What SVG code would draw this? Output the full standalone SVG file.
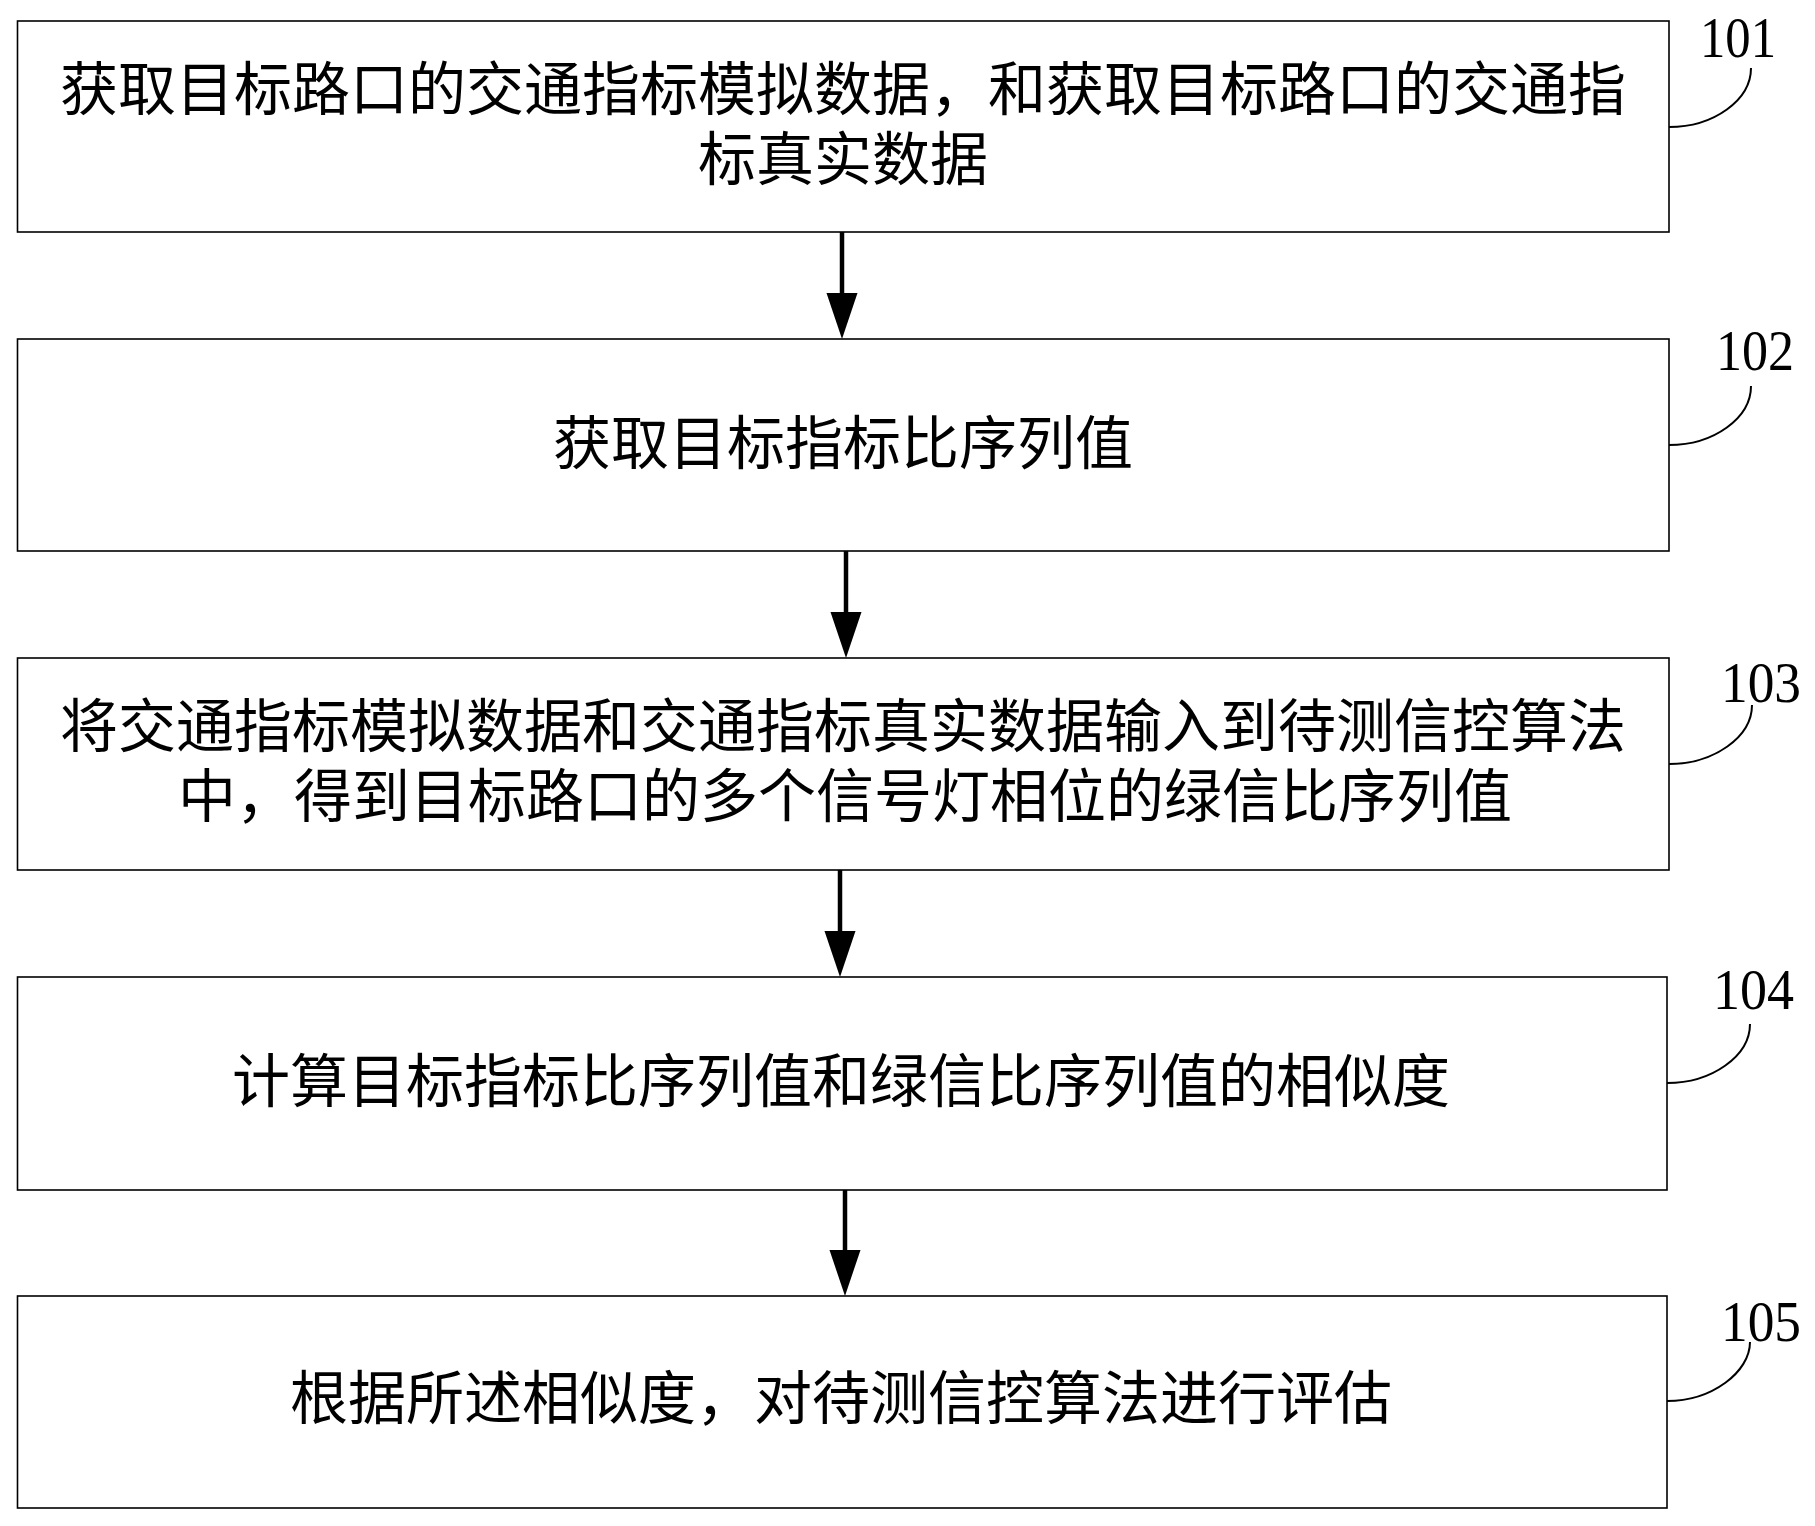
<svg xmlns="http://www.w3.org/2000/svg" width="1815" height="1526" viewBox="0 0 1815 1526">
<defs>
<style>
.box{fill:#fff;stroke:#000;stroke-width:1.6}
.t{font-family:"Liberation Sans","Noto Sans CJK SC","Noto Sans CJK JP",sans-serif;font-size:58px;fill:#000;text-anchor:middle}
.lbl{font-family:"Liberation Serif","Times New Roman",serif;font-size:58px;fill:#000}
.lead{fill:none;stroke:#000;stroke-width:2}
.shaft{stroke:#000;stroke-width:4.5}
.head{fill:#000}
</style>
</defs>
<rect width="1815" height="1526" fill="#fff"/>
<g id="node101">
<rect class="box" x="17.5" y="21" width="1651.5" height="211"/>
<text class="t" x="843" y="109.5">获取目标路口的交通指标模拟数据，和获取目标路口的交通指</text>
<text class="t" x="843" y="179.5">标真实数据</text>
<text class="lbl" x="1700" y="57" textLength="76" lengthAdjust="spacingAndGlyphs">101</text>
<path class="lead" d="M1669,127 C1714,127 1751,100 1751,68"/>
</g>
<g id="node102">
<rect class="box" x="17.5" y="339" width="1651.5" height="212"/>
<text class="t" x="843" y="464">获取目标指标比序列值</text>
<text class="lbl" x="1716" y="370" textLength="78" lengthAdjust="spacingAndGlyphs">102</text>
<path class="lead" d="M1669,445 C1714,445 1751,418 1751,386"/>
</g>
<g id="node103">
<rect class="box" x="17.5" y="658" width="1651.5" height="212"/>
<text class="t" x="843" y="747">将交通指标模拟数据和交通指标真实数据输入到待测信控算法</text>
<text class="t" x="845" y="817">中，得到目标路口的多个信号灯相位的绿信比序列值</text>
<text class="lbl" x="1721" y="702" textLength="80" lengthAdjust="spacingAndGlyphs">103</text>
<path class="lead" d="M1669,764 C1714,764 1752,737 1752,705"/>
</g>
<g id="node104">
<rect class="box" x="17.5" y="977" width="1649.5" height="213"/>
<text class="t" x="841" y="1102">计算目标指标比序列值和绿信比序列值的相似度</text>
<text class="lbl" x="1713" y="1009" textLength="81" lengthAdjust="spacingAndGlyphs">104</text>
<path class="lead" d="M1667,1083 C1712,1083 1750,1056 1750,1024"/>
</g>
<g id="node105">
<rect class="box" x="17.5" y="1296" width="1649.5" height="212"/>
<text class="t" x="841" y="1419">根据所述相似度，对待测信控算法进行评估</text>
<text class="lbl" x="1721" y="1341" textLength="80" lengthAdjust="spacingAndGlyphs">105</text>
<path class="lead" d="M1667,1401 C1712,1401 1750,1372 1750,1342"/>
</g>
<g id="connectors">
<line class="shaft" x1="842" y1="232" x2="842" y2="296"/>
<polygon class="head" points="826.5,293 857.5,293 842,339"/>
<line class="shaft" x1="846" y1="551" x2="846" y2="615"/>
<polygon class="head" points="830.5,612 861.5,612 846,658"/>
<line class="shaft" x1="840" y1="870" x2="840" y2="934"/>
<polygon class="head" points="824.5,931 855.5,931 840,977"/>
<line class="shaft" x1="845" y1="1190" x2="845" y2="1253"/>
<polygon class="head" points="829.5,1250 860.5,1250 845,1296"/>
</g>
</svg>
